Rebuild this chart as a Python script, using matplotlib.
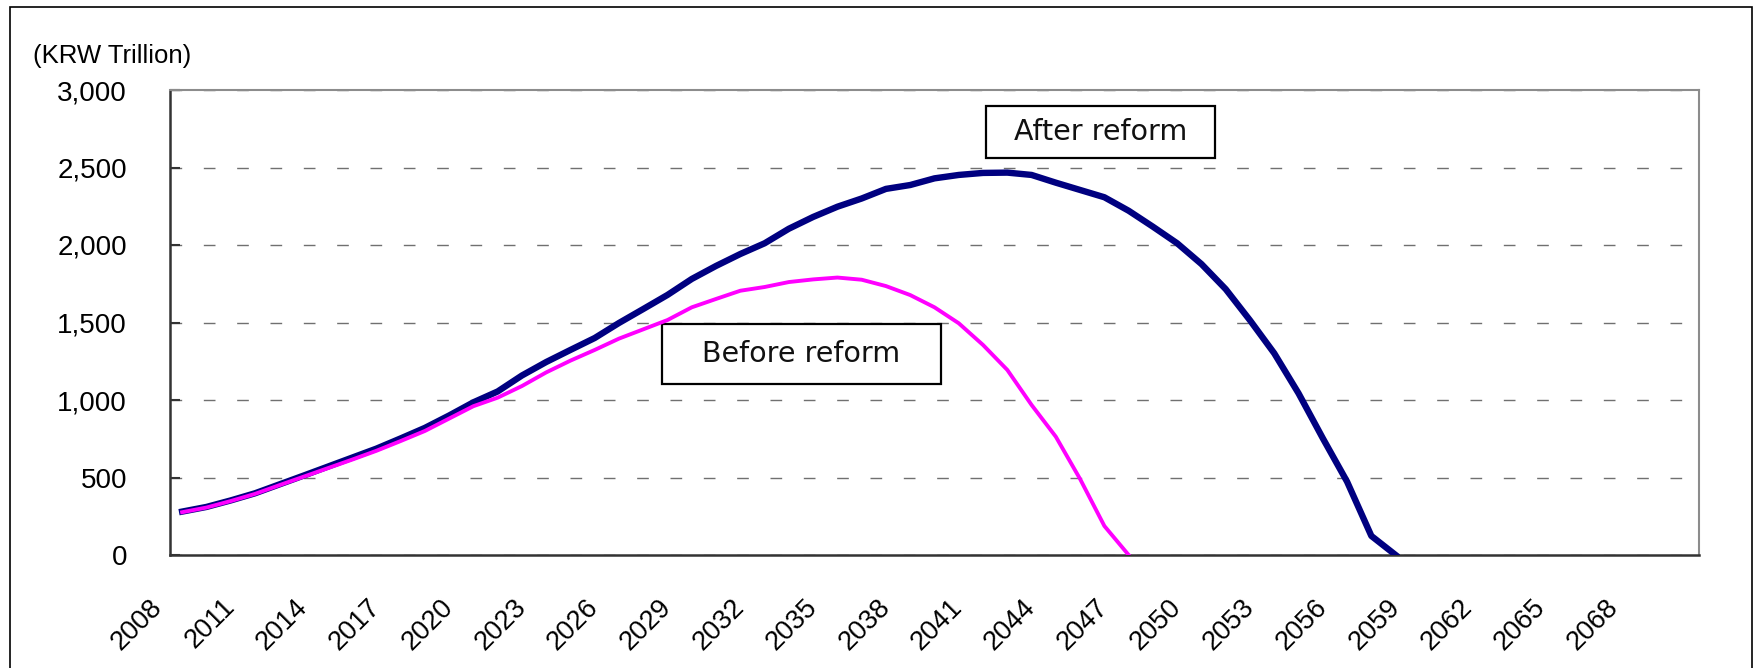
import matplotlib
matplotlib.use('Agg')
import matplotlib.pyplot as plt
import matplotlib.transforms as mtransforms
from matplotlib.patches import Rectangle

# fund size, KRW trillion
years_after = [2008, 2009, 2010, 2011, 2012, 2013, 2014, 2015, 2016, 2017,
               2018, 2019, 2020, 2021, 2022, 2023, 2024, 2025, 2026, 2027,
               2028, 2029, 2030, 2031, 2032, 2033, 2034, 2035, 2036, 2037,
               2038, 2039, 2040, 2041, 2042, 2043, 2044, 2045, 2046, 2047,
               2048, 2049, 2050, 2051, 2052, 2053, 2054, 2055, 2056, 2057,
               2058]
after_reform = [280, 310, 352, 398, 455, 512, 570, 628, 686, 752,
                820, 900, 985, 1055, 1158, 1245, 1323, 1400, 1497, 1587,
                1678, 1781, 1865, 1942, 2011, 2105, 2181, 2247, 2300, 2362,
                2387, 2430, 2452, 2465, 2467, 2452, 2402, 2355, 2308, 2221,
                2118, 2011, 1877, 1715, 1514, 1301, 1043, 753, 473, 123,
                0]

years_before = [2008, 2009, 2010, 2011, 2012, 2013, 2014, 2015, 2016, 2017,
                2018, 2019, 2020, 2021, 2022, 2023, 2024, 2025, 2026, 2027,
                2028, 2029, 2030, 2031, 2032, 2033, 2034, 2035, 2036, 2037,
                2038, 2039, 2040, 2041, 2042, 2043, 2044, 2045, 2046, 2047]
before_reform = [276, 306, 348, 394, 450, 505, 560, 615, 672, 735,
                 800, 880, 960, 1015, 1090, 1178, 1254, 1323, 1396, 1456,
                 1516, 1598, 1652, 1705, 1729, 1761, 1778, 1790, 1776, 1735,
                 1677, 1598, 1495, 1355, 1194, 968, 763, 490, 187, 0]

tick_years = [2008, 2011, 2014, 2017, 2020, 2023, 2026, 2029, 2032, 2035,
              2038, 2041, 2044, 2047, 2050, 2053, 2056, 2059, 2062, 2065, 2068]
y_ticks = [0, 500, 1000, 1500, 2000, 2500, 3000]

plt.rcParams['font.family'] = ['Liberation Sans', 'DejaVu Sans']

W, H = 1757, 668
fig = plt.figure(figsize=(W / 100, H / 100), dpi=100)
ax = fig.add_axes([170 / W, 1 - 555 / H, 1529 / W, 465 / H])

ax.plot(years_after, after_reform, color='#000080', lw=4.6, zorder=3)
ax.plot(years_before, before_reform, color='#FF00FF', lw=2.8, zorder=4)

ax.set_xlim(2007.5, 2070.5)
ax.set_ylim(0, 3000)

ax.set_yticks(y_ticks)
ax.set_yticklabels([f"{v:,}" for v in y_ticks], fontsize=20)
ax.set_xticks(tick_years)
ax.set_xticklabels([str(y) for y in tick_years], fontsize=19.5,
                   rotation=45, ha='right')

ax.tick_params(axis='x', length=0, pad=28)
ax.tick_params(axis='y', direction='in', length=7, width=1.5,
               color='#333333', pad=31)

# shift the rotated year labels a bit left, like the original
offset = mtransforms.ScaledTranslation(-15 / 100, 0, fig.dpi_scale_trans)
for lbl in ax.get_xticklabels():
    lbl.set_transform(lbl.get_transform() + offset)

ax.set_axisbelow(True)
ax.yaxis.grid(True, color='#707070', lw=1.0, linestyle=(0, (8.4, 15.6)))

for side in ['left', 'bottom']:
    ax.spines[side].set_color('#333333')
    ax.spines[side].set_linewidth(1.8)
for side in ['top', 'right']:
    ax.spines[side].set_color('#8c8c8c')
    ax.spines[side].set_linewidth(1.5)

# label boxes
boxes = [
    ("After reform", 0.5337, 0.8538, 0.1497, 0.1118, 0.6089, 0.9097),
    ("Before reform", 0.3218, 0.3677, 0.1825, 0.1291, 0.4130, 0.4323),
]
for txt, x0, y0, w, h, tx, ty in boxes:
    ax.add_patch(Rectangle((x0, y0), w, h, transform=ax.transAxes,
                           facecolor='white', edgecolor='black', lw=1.6,
                           zorder=2.5))
    ax.text(tx, ty, txt, transform=ax.transAxes, ha='center', va='center',
            fontsize=20.5, family='DejaVu Sans', color='#111111', zorder=2.6)

fig.text(33 / W, 1 - 56 / H, "(KRW Trillion)", fontsize=18.5,
         ha='left', va='center')

# outer frame (open at the bottom)
fig.add_artist(Rectangle((10 / W, -0.02), (1752 - 10) / W, (H - 7) / H + 0.02,
                         transform=fig.transFigure, fill=False,
                         edgecolor='black', lw=1.2))

fig.savefig('out.png', dpi=100)
